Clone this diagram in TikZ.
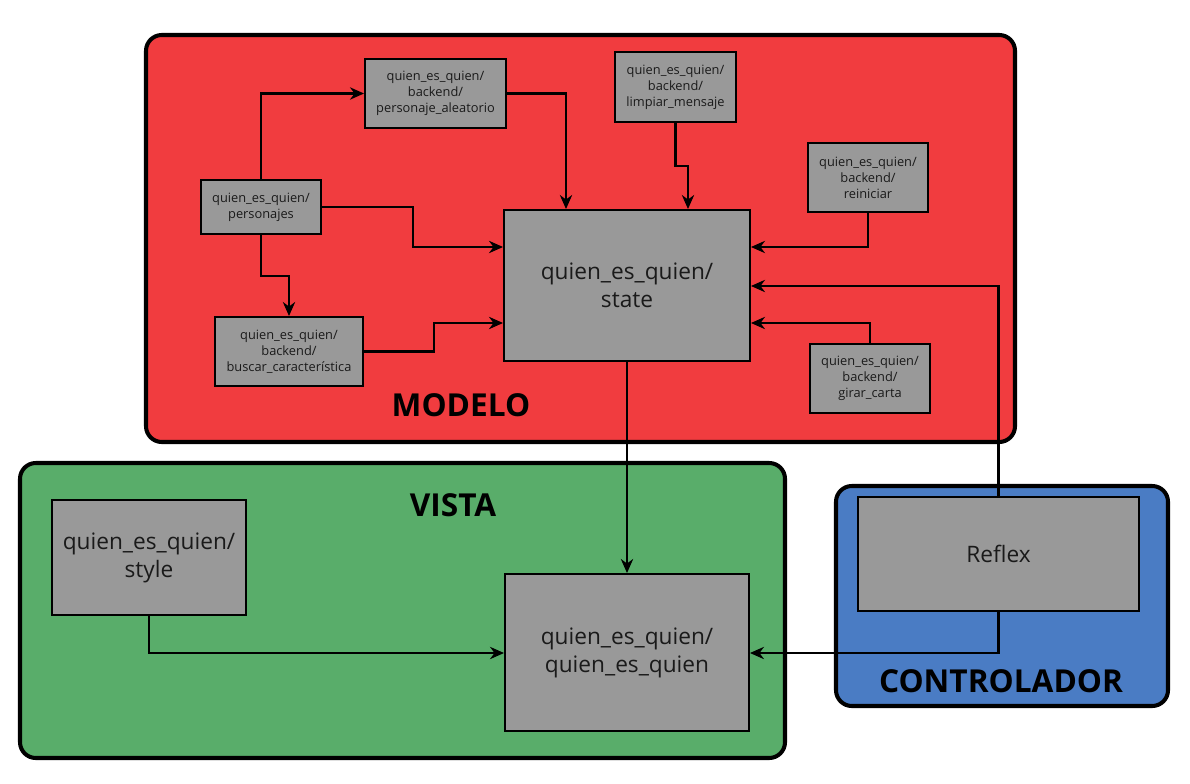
\documentclass[tikz,border=0pt]{standalone}
\usepackage{fontspec}
\setmainfont{Open Sans}
\usepackage{xcolor}
\definecolor{cModelo}{HTML}{F13C3F}
\definecolor{cVista}{HTML}{59AD6A}
\definecolor{cControl}{HTML}{4A7CC4}
\definecolor{cBox}{HTML}{999999}
\definecolor{cText}{HTML}{1A1A1A}
\usetikzlibrary{positioning,arrows.meta,calc}
\tikzset{
  group-box/.style={draw=black,line width=2.3pt,rounded corners=9pt},
  group-label/.style={font=\fontsize{18}{20}\selectfont\bfseries,text=black},
  node-small/.style={draw=black,line width=1.1pt,fill=cBox,align=center,
    text=cText,inner sep=0pt,font=\fontsize{7.3}{9.1}\selectfont},
  node-big/.style={draw=black,line width=1.1pt,fill=cBox,align=center,
    text=cText,inner sep=0pt,font=\fontsize{12.9}{15.9}\selectfont},
  arrow/.style={-{Stealth[length=8pt,width=7pt]},line width=1.2pt,draw=black},
}

\begin{document}
\begin{tikzpicture}[x=0.02cm,y=-0.02cm]
  \useasboundingbox (0,0) rectangle (1190,784);
  % grupos
  \draw[group-box,fill=cModelo] (146,35) rectangle (1015,442);
  \draw[group-box,fill=cVista] (20,463) rectangle (785,758);
  \draw[group-box,fill=cControl] (836,486) rectangle (1168,706);
  \node[group-label] (modelo) at (461,405) {MODELO};
  \node[group-label] (vista) at (453,505) {VISTA};
  \node[group-label] (controlador) at (1001,681) {CONTROLADOR};

  % modelo
  \node[node-small,minimum width=141*0.02cm,minimum height=69*0.02cm] (aleatorio)
    at (435.5,93.5) {quien\_es\_quien/\\backend/\\personaje\_aleatorio};
  \node[node-small,minimum width=121*0.02cm,minimum height=70*0.02cm] (limpiar)
    at (675.5,87) {quien\_es\_quien/\\backend/\\limpiar\_mensaje};
  \node[node-small,minimum width=120*0.02cm,minimum height=69*0.02cm] (reiniciar)
    at (868,177.5) {quien\_es\_quien/\\backend/\\reiniciar};
  \node[node-small,minimum width=120*0.02cm,minimum height=54*0.02cm] (personajes)
    at (261,207) {quien\_es\_quien/\\personajes};
  \node[node-big,minimum width=246*0.02cm,minimum height=151*0.02cm] (state)
    at (627,285.5) {quien\_es\_quien/\\state};
  \node[node-small,minimum width=148*0.02cm,minimum height=69*0.02cm] (buscar)
    at (289,351.5) {quien\_es\_quien/\\backend/\\buscar\_característica};
  \node[node-small,minimum width=120*0.02cm,minimum height=69*0.02cm] (girar)
    at (870,378.5) {quien\_es\_quien/\\backend/\\girar\_carta};

  % vista y controlador
  \node[node-big,minimum width=194*0.02cm,minimum height=115*0.02cm] (style)
    at (149,557.5) {quien\_es\_quien/\\style};
  \node[node-big,minimum width=244*0.02cm,minimum height=157*0.02cm] (qeq)
    at (627,652.5) {quien\_es\_quien/\\quien\_es\_quien};
  \node[node-big,minimum width=281*0.02cm,minimum height=114*0.02cm] (reflex)
    at (998.5,554) {Reflex};

  % conexiones
  \draw[arrow] (personajes.north) |- (aleatorio.west);
  \draw[arrow] (aleatorio.east) -| (state.north -| 566,0);
  \draw[arrow] (limpiar.south) |- (688,166) -- (state.north -| 688,0);
  \draw[arrow] (reiniciar.south) |- (state.east |- 0,247);
  \draw[arrow] (personajes.east) -| (413,247) -- (state.west |- 0,247);
  \draw[arrow] (personajes.south) |- (289,276) -- (buscar.north);
  \draw[arrow] (buscar.east) -| (434,323) -- (state.west |- 0,323);
  \draw[arrow] (girar.north) |- (state.east |- 0,323);
  \draw[arrow] (reflex.north) |- (state.east |- 0,286);
  \draw[arrow] (state.south) -- (qeq.north);
  \draw[arrow] (style.south) |- (qeq.west |- 0,653);
  \draw[arrow] (reflex.south) |- (qeq.east |- 0,653);
\end{tikzpicture}
\end{document}
